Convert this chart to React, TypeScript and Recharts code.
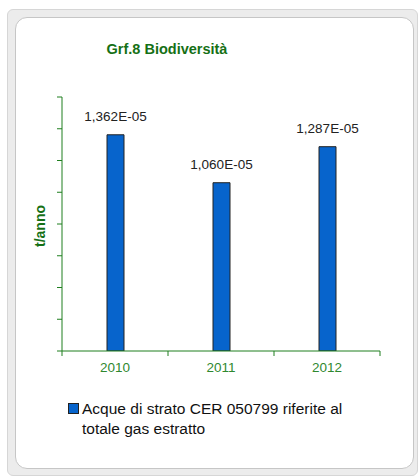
import React from "react";
import { BarChart, Bar, XAxis, YAxis, LabelList } from "recharts";

const categories = ["2010", "2011", "2012"];
const values = [1.362e-5, 1.06e-5, 1.287e-5];
const yTicks = [0, 2e-6, 4e-6, 6e-6, 8e-6, 1e-5, 1.2e-5, 1.4e-5, 1.6e-5];
const title = "Grf.8 Biodiversità";
const yLabel = "t/anno";
const legendLines = ["Acque di strato CER 050799 riferite al", "totale gas estratto"];

const data = categories.map((c, i) => ({ year: c, v: values[i] }));

const FONT = "'Liberation Sans', Arial, sans-serif";
const AXIS_GREEN = "#1f7f1f";
const YEAR_GREEN = "#2f882f";
const TEXT_GREEN = "#157015";
const BAR_BLUE = "#0764cc";

const fmt = (v: number) => (v * 1e5).toFixed(3).replace(".", ",") + "E-05";

const XTick = (props: any) => {
  const { x, y, payload, index, visibleTicksCount } = props;
  const half = payload && typeof payload.offset === "number" ? payload.offset : 0;
  const last = index === (visibleTicksCount ?? categories.length) - 1;
  return (
    <g>
      <line x1={x - half} x2={x - half} y1={y} y2={y + 5} stroke={AXIS_GREEN} strokeWidth={1} />
      {last && <line x1={x + half} x2={x + half} y1={y} y2={y + 5} stroke={AXIS_GREEN} strokeWidth={1} />}
      <text x={x} y={y + 21} textAnchor="middle" fontFamily={FONT} fontSize={13.5} fill={YEAR_GREEN}>
        {payload.value}
      </text>
    </g>
  );
};

const YTick = (props: any) => {
  const { x, y } = props;
  return <line x1={x - 5} x2={x} y1={y} y2={y} stroke={AXIS_GREEN} strokeWidth={1} />;
};

export default function App() {
  return (
    <div style={{ position: "absolute", left: 0, top: 0, width: 419, height: 476, background: "#fff", overflow: "hidden" }}>
      <div style={{ position: "absolute", left: 7, top: 9, width: 411, height: 467, background: "#ececec", border: "1px solid #d6d6d6", borderRadius: 6, boxSizing: "border-box" }} />
      <div style={{ position: "absolute", left: 15, top: 17, width: 399, height: 452, background: "#fff", border: "1px solid #c6c6c6", borderRadius: 12, boxSizing: "border-box" }} />
      <div style={{ position: "absolute", left: 0, top: 0 }}>
        <BarChart width={419} height={476} data={data} margin={{ top: 97, right: 39, bottom: 95, left: 52 }} barSize={17}>
          <XAxis
            dataKey="year"
            height={30}
            axisLine={{ stroke: AXIS_GREEN, strokeWidth: 1 }}
            tickLine={false}
            tickSize={0}
            tickMargin={0}
            tick={<XTick />}
            interval={0}
          />
          <YAxis
            width={10}
            domain={[0, 1.6e-5]}
            ticks={yTicks}
            tick={<YTick />}
            tickLine={false}
            tickSize={0}
            tickMargin={0}
            interval={0}
            axisLine={{ stroke: AXIS_GREEN, strokeWidth: 1 }}
            allowDataOverflow
          />
          <Bar dataKey="v" fill={BAR_BLUE} stroke="#222" strokeWidth={1} isAnimationActive={false}>
            <LabelList
              dataKey="v"
              position="top"
              offset={14}
              formatter={(v: any) => fmt(Number(v))}
              style={{ fontFamily: FONT, fontSize: 13.5, fill: "#222" }}
            />
          </Bar>
        </BarChart>
      </div>
      <svg width={419} height={476} style={{ position: "absolute", left: 0, top: 0, pointerEvents: "none" }}>
        <text x={167} y={54} textAnchor="middle" fontFamily={FONT} fontWeight="bold" fontSize={14.5} fill={TEXT_GREEN}>
          {title}
        </text>
        <text
          x={0}
          y={0}
          transform="translate(45,226) rotate(-90)"
          textAnchor="middle"
          fontFamily={FONT}
          fontWeight="bold"
          fontSize={14}
          fill={TEXT_GREEN}
        >
          {yLabel}
        </text>
        <rect x={68.5} y={403.5} width={10} height={10} fill={BAR_BLUE} stroke="#222" strokeWidth={1} />
        {legendLines.map((l, i) => (
          <text key={i} x={82} y={414 + i * 20} fontFamily={FONT} fontSize={15.5} fill="#111">
            {l}
          </text>
        ))}
      </svg>
    </div>
  );
}
